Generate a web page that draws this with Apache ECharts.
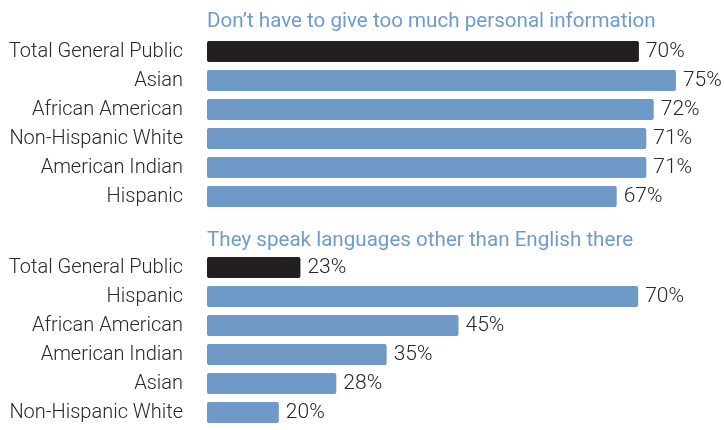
<!DOCTYPE html>
<html>
<head>
<meta charset="utf-8">
<script src="https://cdn.jsdelivr.net/npm/echarts@6/dist/echarts.min.js"></script>
<style>
  html, body { margin: 0; padding: 0; background: #ffffff; }
  #chart { width: 724px; height: 430px; }
</style>
</head>
<body>
<div id="chart"></div>
<script>
// Panel titles
const titles = [
  'Don\u2019t have to give too much personal information',
  'They speak languages other than English there'
];

// Panel 1: reasons — personal information
const cats1 = ['Total General Public', 'Asian', 'African American', 'Non-Hispanic White', 'American Indian', 'Hispanic'];
const vals1 = [70, 75, 72, 71, 71, 67];

// Panel 2: reasons — languages spoken
const cats2 = ['Total General Public', 'Hispanic', 'African American', 'American Indian', 'Asian', 'Non-Hispanic White'];
const vals2 = [23, 70, 45, 35, 28, 20];

const FONT = 'Roboto, sans-serif';
const TEXT = '#2b2728';
const BLUE = '#6f9ac7';
const DARK = '#231f20';
const TITLE_BLUE = '#6f9bcc';

function barData(vals) {
  return vals.map((v, i) => ({
    value: v,
    itemStyle: { color: i === 0 ? DARK : BLUE }
  }));
}

function yAxis(gridIndex, cats) {
  return {
    type: 'category',
    gridIndex: gridIndex,
    data: cats,
    inverse: true,
    axisLine: { show: false },
    axisTick: { show: false },
    splitLine: { show: false },
    axisLabel: {
      interval: 0,
      margin: 24,
      padding: [7, 0, 0, 0],
      color: TEXT,
      fontFamily: FONT,
      fontWeight: 300,
      fontSize: 20
    }
  };
}

function xAxis(gridIndex, min, max) {
  return {
    type: 'value',
    gridIndex: gridIndex,
    min: min,
    max: max,
    show: false
  };
}

function series(idx, vals) {
  return {
    type: 'bar',
    xAxisIndex: idx,
    yAxisIndex: idx,
    data: barData(vals),
    barWidth: 21,
    itemStyle: { borderRadius: 2 },
    label: {
      show: true,
      position: 'right',
      distance: 7,
      padding: [5, 0, 0, 0],
      formatter: '{c}%',
      color: TEXT,
      fontFamily: FONT,
      fontWeight: 300,
      fontSize: 21
    },
    silent: true,
    animation: false
  };
}

const chart = echarts.init(document.getElementById('chart'), null, { renderer: 'canvas' });
chart.setOption({
  backgroundColor: '#ffffff',
  animation: false,
  title: [
    { text: titles[0], left: 202, top: 11, padding: [0, 5],
      textStyle: { color: TITLE_BLUE, fontFamily: FONT, fontSize: 20.6, fontWeight: 'normal' } },
    { text: titles[1], left: 202, top: 230, padding: [0, 5],
      textStyle: { color: TITLE_BLUE, fontFamily: FONT, fontSize: 20.6, fontWeight: 'normal' } }
  ],
  grid: [
    { left: 207, top: 37, width: 506, height: 174, outerBoundsMode: 'none', containLabel: false },
    { left: 207, top: 253, width: 503, height: 174, outerBoundsMode: 'none', containLabel: false }
  ],
  xAxis: [xAxis(0, 11.7, 80), xAxis(1, 10, 80)],
  yAxis: [yAxis(0, cats1), yAxis(1, cats2)],
  series: [series(0, vals1), series(1, vals2)]
});
</script>
</body>
</html>
